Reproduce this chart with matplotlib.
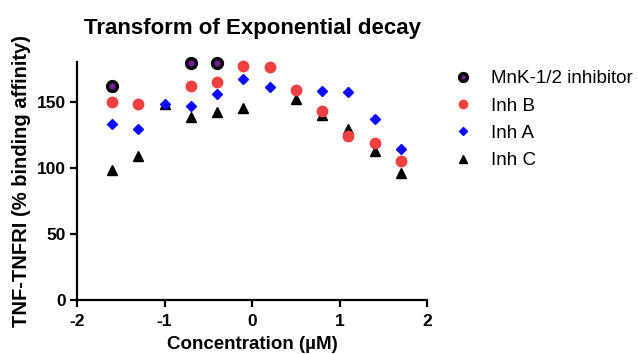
import matplotlib
matplotlib.use("Agg")
import matplotlib.pyplot as plt

plt.rcParams['font.family'] = ['Liberation Sans', 'DejaVu Sans']
plt.rcParams['axes.unicode_minus'] = False

# Concentration (log uM)
x_mnk = [-1.6, -0.7, -0.4]
y_mnk = [162, 179, 179]

x_b = [-1.6, -1.3, -0.7, -0.4, -0.1, 0.2, 0.5, 0.8, 1.1, 1.4, 1.7]
y_b = [150, 148, 162, 165, 177, 176, 159, 143, 124, 119, 105]

x_a = [-1.6, -1.3, -1.0, -0.7, -0.4, -0.1, 0.2, 0.8, 1.1, 1.4, 1.7]
y_a = [133, 129, 148, 147, 156, 167, 161, 158, 157, 137, 114]

x_c = [-1.6, -1.3, -1.0, -0.7, -0.4, -0.1, 0.5, 0.8, 1.1, 1.4, 1.7]
y_c = [98, 109, 148, 138, 142, 145, 152, 140, 129, 113, 96]

fig = plt.figure(figsize=(6.38, 3.54), dpi=100)
ax = fig.add_axes([0.1207, 0.1525, 0.5486, 0.6725])

ax.plot(x_c, y_c, ls='none', marker='^', ms=7, color='black', label='Inh C', zorder=2, clip_on=False)
ax.plot(x_a, y_a, ls='none', marker='D', ms=5.5, color='#0a0aff', label='Inh A', zorder=3, clip_on=False)
ax.plot(x_b, y_b, ls='none', marker='o', ms=7.5, color='#f04040', mec='#f04040', label='Inh B',
        zorder=4, clip_on=False)
ax.plot(x_mnk, y_mnk, ls='none', marker='o', ms=7, mfc='#7a1aa0', mec='black', mew=2.5,
        label='MnK-1/2 inhibitor', zorder=5, clip_on=False)

ax.set_xlim(-2, 2)
ax.set_ylim(0, 180)
ax.set_xticks([-2, -1, 0, 1, 2])
ax.set_yticks([0, 50, 100, 150])
ax.spines['top'].set_visible(False)
ax.spines['right'].set_visible(False)
for s in ['left', 'bottom']:
    ax.spines[s].set_linewidth(1.6)
ax.tick_params(width=1.6, length=5, labelsize=12.5, pad=3)
ax.tick_params(axis='x', pad=5)
for lab in ax.get_xticklabels() + ax.get_yticklabels():
    lab.set_fontweight('bold')

ax.set_xlabel('Concentration (µM)', fontsize=13.5, fontweight='bold', labelpad=5)
ax.set_ylabel('TNF-TNFRI (% binding affinity)', fontsize=14.5, fontweight='bold', labelpad=4)
fig.text(0.395, 0.905, 'Transform of Exponential decay', fontsize=16, fontweight='bold', ha='center')

handles, labels = ax.get_legend_handles_labels()
order = [3, 2, 1, 0]
leg = fig.legend([handles[i] for i in order], [labels[i] for i in order],
                 loc='upper left', bbox_to_anchor=(0.684, 0.85), frameon=False,
                 fontsize=13.5, handlelength=1.0, handletextpad=1.0, labelspacing=0.55,
                 markerscale=0.8)

fig.savefig('out.png', dpi=100)
